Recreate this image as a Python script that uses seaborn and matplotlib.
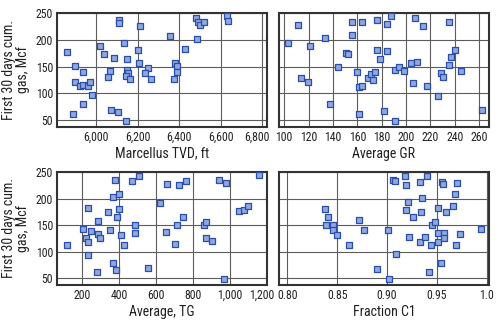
import matplotlib
matplotlib.use("Agg")
import matplotlib.pyplot as plt
import matplotlib.transforms as mtransforms
import seaborn as sns
import pandas as pd
from matplotlib import font_manager as fm

# ---------------- data ----------------
tvd_ft = [5856, 5895, 5895, 5888, 5935, 5922, 5935, 5958, 5969, 5935, 5981, 6018, 6036, 6084,
          6068, 6058, 6070, 6102, 6142, 6110, 6107, 6131, 6146, 6150, 6155, 6141, 6160, 6213,
          6200, 6204, 6251, 6236, 6263, 6356, 6378, 6390, 6390, 6374, 6429, 6482, 6489, 6500,
          6518, 6484, 6631, 6637]
tvd_gas = [178, 151, 120, 60, 140, 114, 115, 114, 120, 79, 96, 189, 174, 166,
           141, 131, 68, 65, 47, 237, 231, 194, 164, 144, 137, 132, 127, 226,
           181, 156, 148, 138, 126, 208, 157, 151, 140, 127, 182, 241, 234, 227,
           234, 202, 245, 235]

gr_avg = [103.3, 111.5, 113.4, 119.7, 121.4, 133.4, 137.2, 144.3, 150.4, 152.3, 155.8, 155.8,
          159.7, 161.3, 161.6, 163.5, 163.5, 168.9, 170.9, 173.0, 174.7, 176.3, 176.3, 178.8,
          181.5, 184.0, 184.0, 187.3, 190.8, 190.8, 194.4, 198.5, 203.7, 205.6, 207.5, 208.9,
          214.0, 217.3, 225.8, 228.6, 229.9, 235.4, 235.1, 237.0, 240.0, 245.0, 262.2]
gr_gas = [194, 228, 128, 120, 189, 203, 79, 149, 176, 173, 234, 209,
          139, 60, 111, 114, 234, 128, 135, 124, 139, 237, 181, 164,
          66, 229, 179, 245, 48, 144, 149, 141, 156, 119, 241, 158,
          226, 114, 95, 138, 131, 234, 152, 168, 181, 141, 69]

tg_avg = [115, 206, 218, 231, 231, 247, 234, 283, 283, 296, 281, 341, 353, 366, 366, 377,
          384, 389, 397, 397, 411, 424, 472, 508, 485, 485, 559, 622, 654, 660, 701, 714,
          723, 744, 762, 858, 872, 872, 903, 943, 977, 971, 1052, 1079, 1101, 1160]
tg_gas = [113, 143, 126, 119, 182, 139, 94, 158, 134, 125, 61, 174, 140, 203, 78, 236,
          66, 166, 209, 181, 131, 113, 233, 242, 151, 136, 69, 192, 138, 227, 114, 151,
          225, 165, 233, 151, 156, 126, 121, 236, 229, 49, 176, 178, 186, 244]

c1_frac = [0.8381, 0.8411, 0.8391, 0.8462, 0.8458, 0.8502, 0.8619, 0.8722, 0.8769, 0.8900,
           0.9013, 0.9023, 0.9060, 0.9084, 0.9090, 0.9177, 0.9187, 0.9211, 0.9191, 0.9224,
           0.9258, 0.9328, 0.9405, 0.9351, 0.9338, 0.9334, 0.9385, 0.9441, 0.9418, 0.9455,
           0.9482, 0.9508, 0.9508, 0.9512, 0.9542, 0.9548, 0.9565, 0.9575, 0.9575, 0.9595,
           0.9659, 0.9682, 0.9706, 0.9692, 0.9729, 0.9946]
c1_gas = [180, 165, 150, 150, 140, 131, 113, 159, 140, 68,
          140, 49, 236, 233, 96, 243, 225, 193, 179, 127,
          165, 232, 243, 201, 175, 119, 127, 113, 61, 150,
          156, 182, 136, 119, 79, 232, 227, 136, 126, 174,
          186, 209, 229, 113, 134, 142]

y_ticks = [50, 100, 150, 200, 250]
tvd_ticks = [6000, 6200, 6400, 6600, 6800]
tvd_labels = ["6,000", "6,200", "6,400", "6,600", "6,800"]
gr_ticks = [100, 120, 140, 160, 180, 200, 220, 240, 260]
gr_labels = [str(v) for v in gr_ticks]
tg_ticks = [200, 400, 600, 800, 1000, 1200]
tg_labels = ["200", "400", "600", "800", "1,000", "1,200"]
c1_ticks = [0.80, 0.85, 0.90, 0.95, 1.00]
c1_labels = ["0.80", "0.85", "0.90", "0.95", "1.0"]

x_titles = ["Marcellus TVD, ft", "Average GR", "Average, TG", "Fraction C1"]
y_title = "First 30 days cum.\ngas, Mcf"

# ---------------- style ----------------
sns.set_theme(style="white")
avail = {f.name for f in fm.fontManager.ttflist}
family = "DejaVu Sans"
for cand in ["Liberation Sans Narrow", "Roboto Condensed", "Open Sans Condensed", "Liberation Sans"]:
    if cand in avail:
        family = cand
        break
plt.rcParams["font.family"] = [family, "DejaVu Sans"]
TXT = "#231f20"

fig = plt.figure(figsize=(5.0, 3.23), dpi=100)
W, H = 500.0, 323.0


def add_ax(x0, y0, x1, y1):
    return fig.add_axes([x0 / W, 1 - y1 / H, (x1 - x0) / W, (y1 - y0) / H])


axes = [
    add_ax(57.3, 12.7, 267.3, 126.7),
    add_ax(279.0, 12.7, 489.0, 126.7),
    add_ax(57.3, 171.7, 267.3, 285.0),
    add_ax(279.0, 171.7, 489.0, 285.0),
]

panels = [
    (tvd_ft, tvd_gas, tvd_ticks, tvd_labels, (5811, 6826)),
    (gr_avg, gr_gas, gr_ticks, gr_labels, (95.7, 268)),
    (tg_avg, tg_gas, tg_ticks, tg_labels, (65, 1203)),
    (c1_frac, c1_gas, c1_ticks, c1_labels, (0.7917, 1.0023)),
]

for i, (ax, (xv, yv, xt, xl, xlim)) in enumerate(zip(axes, panels)):
    df = pd.DataFrame({"x": xv, "y": yv})
    ax.set_axisbelow(True)
    sns.scatterplot(data=df, x="x", y="y", ax=ax, marker="s", s=17,
                    color="#8fa8e2", edgecolor="#2c4ea6", linewidth=0.9,
                    zorder=3, legend=False)
    ax.set_xlim(*xlim)
    ax.set_ylim(37, 251)
    ax.set_xticks(xt)
    ax.set_xticklabels(xl)
    ax.set_yticks(y_ticks)
    ax.grid(True, color="#5c5c5c", linewidth=0.8)
    for sp in ax.spines.values():
        sp.set_color("#333333")
        sp.set_linewidth(1.5)
        sp.set_visible(True)
    ax.tick_params(axis="both", length=0, labelsize=8.5, colors=TXT, pad=3)
    ax.set_xlabel(x_titles[i], fontsize=10, color=TXT, labelpad=2)
    if i % 2 == 0:
        ax.set_ylabel(y_title, fontsize=10, color=TXT, labelpad=4, linespacing=1.05)
        # nudge the right-most tick label left so it does not run into the next panel
        last = ax.get_xticklabels()[-1]
        last.set_transform(last.get_transform() +
                           mtransforms.ScaledTranslation(-5 / 100, 0, fig.dpi_scale_trans))
    else:
        ax.set_ylabel("")
        ax.tick_params(axis="y", labelleft=False)

fig.savefig("out.png", dpi=100)
